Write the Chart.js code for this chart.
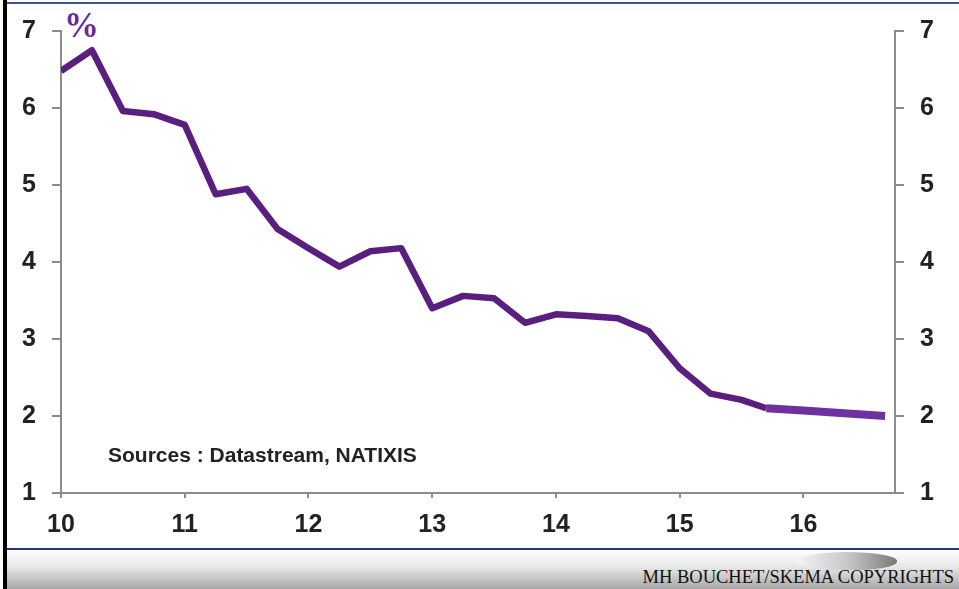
<!DOCTYPE html>
<html>
<head>
<meta charset="utf-8">
<script src="https://cdn.jsdelivr.net/npm/chart.js@4.4.1/dist/chart.umd.min.js"></script>
<style>
  html, body { margin: 0; padding: 0; background: #fff; }
  #wrap { position: relative; width: 959px; height: 589px; overflow: hidden; background: #fff; }
  #chart { position: absolute; left: 0; top: 0; }
  .leftbar { position: absolute; left: 3px; top: 0; width: 4px; height: 589px; background: #000; }
  .topline { position: absolute; left: 7px; top: 2px; width: 952px; height: 2px; background: #3a5690; }
  .footer { position: absolute; left: 7px; top: 548px; width: 952px; height: 41px;
            border-top: 2px solid #1e3a78; box-sizing: border-box;
            background: linear-gradient(to bottom, #ffffff 0%, #e6e6e6 45%, #a6a6a6 100%); }
  .lens { position: absolute; left: 797px; top: 552px; width: 100px; height: 18px; border-radius: 50% 50% 45% 45%;
          background: linear-gradient(to right, #f4f4f4 0%, #c8c8c8 50%, #7a7a7a 100%); }
  .copy { position: absolute; right: 5px; top: 567px; font: 18.5px "Liberation Serif", "Times New Roman", serif; color: #111; white-space: nowrap; }
  .pct { position: absolute; left: 64px; top: 6px; font: bold 35px "Liberation Serif", "Times New Roman", serif; color: #6c2a9c; }
  .src { position: absolute; left: 108px; top: 443px; font: bold 21px "Liberation Sans", Arial, sans-serif; color: #222; }
</style>
</head>
<body>
<div id="wrap">
  <canvas id="chart" width="959" height="548"></canvas>
  <div class="leftbar"></div>
  <div class="topline"></div>
  <div class="footer"></div>
  <div class="lens"></div>
  <div class="copy">MH BOUCHET/SKEMA COPYRIGHTS</div>
  <div class="pct">%</div>
  <div class="src">Sources : Datastream, NATIXIS</div>
</div>
<script>
// quarterly observations (year 2000+)
const actualX = [10, 10.25, 10.5, 10.75, 11, 11.25, 11.5, 11.75, 12, 12.25, 12.5, 12.75,
                 13, 13.25, 13.5, 13.75, 14, 14.25, 14.5, 14.75, 15, 15.25, 15.5, 15.7];
const actualY = [6.48, 6.75, 5.96, 5.92, 5.78, 4.88, 4.95, 4.43, 4.18, 3.94, 4.14, 4.18,
                 3.40, 3.56, 3.53, 3.21, 3.32, 3.30, 3.27, 3.10, 2.62, 2.29, 2.21, 2.10];
// forecast part
const forecastX = [15.7, 16, 16.66];
const forecastY = [2.10, 2.07, 2.00];

const xTicks = [10, 11, 12, 13, 14, 15, 16];
const yTicks = [1, 2, 3, 4, 5, 6, 7];

const axisGray = '#8c8c8c';
const tickFont = { family: "'Liberation Sans', Arial, sans-serif", size: 25, weight: 'bold' };

function fixTicks(list) {
    return function (scale) { scale.ticks = list.map(v => ({ value: v })); };
}

function yAxis(pos, w) {
    return {
        type: 'linear', position: pos, min: 1, max: 7,
        afterBuildTicks: fixTicks(yTicks),
        afterFit: s => { s.width = w; },
        ticks: { color: '#222', font: tickFont, padding: 16 },
        grid: { drawOnChartArea: false, tickLength: 9, color: axisGray, lineWidth: 2 },
        border: { color: axisGray, width: 2 }
    };
}

new Chart(document.getElementById('chart'), {
    type: 'line',
    data: {
        datasets: [
            {
                data: forecastX.map((x, i) => ({ x: x, y: forecastY[i] })),
                borderColor: '#7030a0', borderWidth: 8, pointRadius: 0, tension: 0,
                borderCapStyle: 'butt', yAxisID: 'y'
            },
            {
                data: actualX.map((x, i) => ({ x: x, y: actualY[i] })),
                borderColor: '#5a1f7e', borderWidth: 6.5, pointRadius: 0, tension: 0,
                borderJoinStyle: 'round', borderCapStyle: 'butt', yAxisID: 'y'
            }
        ]
    },
    options: {
        responsive: false, animation: false, devicePixelRatio: 1,
        layout: { padding: { top: 30, left: 0, right: 0, bottom: 0 } },
        plugins: { legend: { display: false }, tooltip: { enabled: false } },
        scales: {
            x: {
                type: 'linear', position: 'bottom', min: 10, max: 16.74,
                afterBuildTicks: fixTicks(xTicks),
                afterFit: s => { s.height = 55; },
                ticks: { color: '#222', font: tickFont, padding: 12, maxRotation: 0, autoSkip: false },
                grid: { drawOnChartArea: false, tickLength: 5, color: axisGray, lineWidth: 2 },
                border: { color: axisGray, width: 2 }
            },
            y: yAxis('left', 61),
            y2: yAxis('right', 64)
        }
    }
});
</script>
</body>
</html>
